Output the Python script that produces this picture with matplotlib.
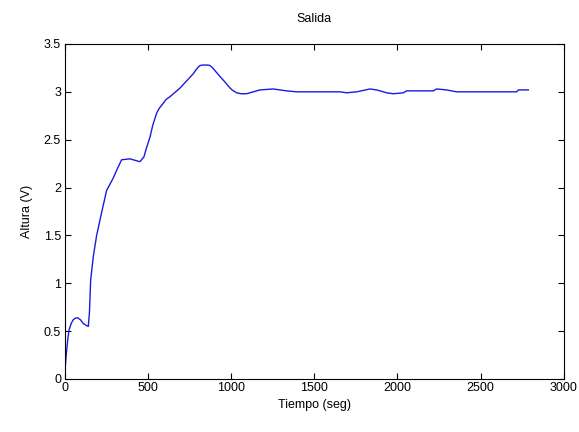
import numpy as np
import matplotlib
matplotlib.use('Agg')
import matplotlib.pyplot as plt

# curve (time in s, height in V)
tiempo = [0, 3, 8, 13, 20, 27, 40, 53, 65, 77, 95, 113, 130, 143, 150, 157, 173, 193,
          223, 253, 293, 313, 343, 393, 453, 477, 490, 514, 530, 554, 570, 593, 610,
          634, 694, 774, 790, 804, 814, 830, 860, 874, 890, 934, 960, 994, 1010,
          1034, 1060, 1094, 1174, 1254, 1334, 1395, 1655, 1695, 1755, 1835, 1875,
          1935, 1975, 2035, 2055, 2135, 2215, 2235, 2295, 2355, 2416, 2556, 2716,
          2726, 2786]
altura = [0.05, 0.09, 0.20, 0.30, 0.42, 0.51, 0.58, 0.62, 0.635, 0.64, 0.62, 0.58, 0.56, 0.55, 0.70, 1.03, 1.28, 1.50,
          1.74, 1.97, 2.10, 2.18, 2.29, 2.30, 2.27, 2.32, 2.40, 2.53, 2.65, 2.78, 2.83, 2.88, 2.92,
          2.95, 3.04, 3.19, 3.23, 3.26, 3.275, 3.28, 3.28, 3.275, 3.25, 3.16, 3.11, 3.04, 3.015,
          2.99, 2.98, 2.98, 3.02, 3.03, 3.01, 3.00, 3.00, 2.99, 3.00, 3.03, 3.02,
          2.99, 2.98, 2.99, 3.01, 3.01, 3.01, 3.03, 3.02, 3.00, 3.00, 3.00, 3.00,
          3.02, 3.02]

plt.rcParams['font.family'] = ['Liberation Sans', 'DejaVu Sans']
plt.rcParams['font.size'] = 9

fig = plt.figure(figsize=(5.79, 4.32), dpi=100)
ax = fig.add_axes([0.1114, 0.1227, 0.8626, 0.7755])
ax.plot(tiempo, altura, color='#1a1ae0', linewidth=1.0)

ax.set_xlim(0, 3000)
ax.set_ylim(0, 3.5)
ax.set_xticks(np.arange(0, 3001, 500))
ax.set_yticks(np.arange(0, 3.51, 0.5))
ax.set_yticklabels(['0', '0.5', '1', '1.5', '2', '2.5', '3', '3.5'])
ax.tick_params(direction='in', top=True, right=True, length=4, width=0.8,
               labelsize=9, pad=2.5)
for s in ax.spines.values():
    s.set_linewidth(0.8)

ax.set_title('Salida', fontsize=9, pad=16)
ax.set_xlabel('Tiempo (seg)', fontsize=9, labelpad=3.5)
ax.set_ylabel('Altura (V)', fontsize=9, labelpad=8)

plt.savefig('out.png', dpi=100)
